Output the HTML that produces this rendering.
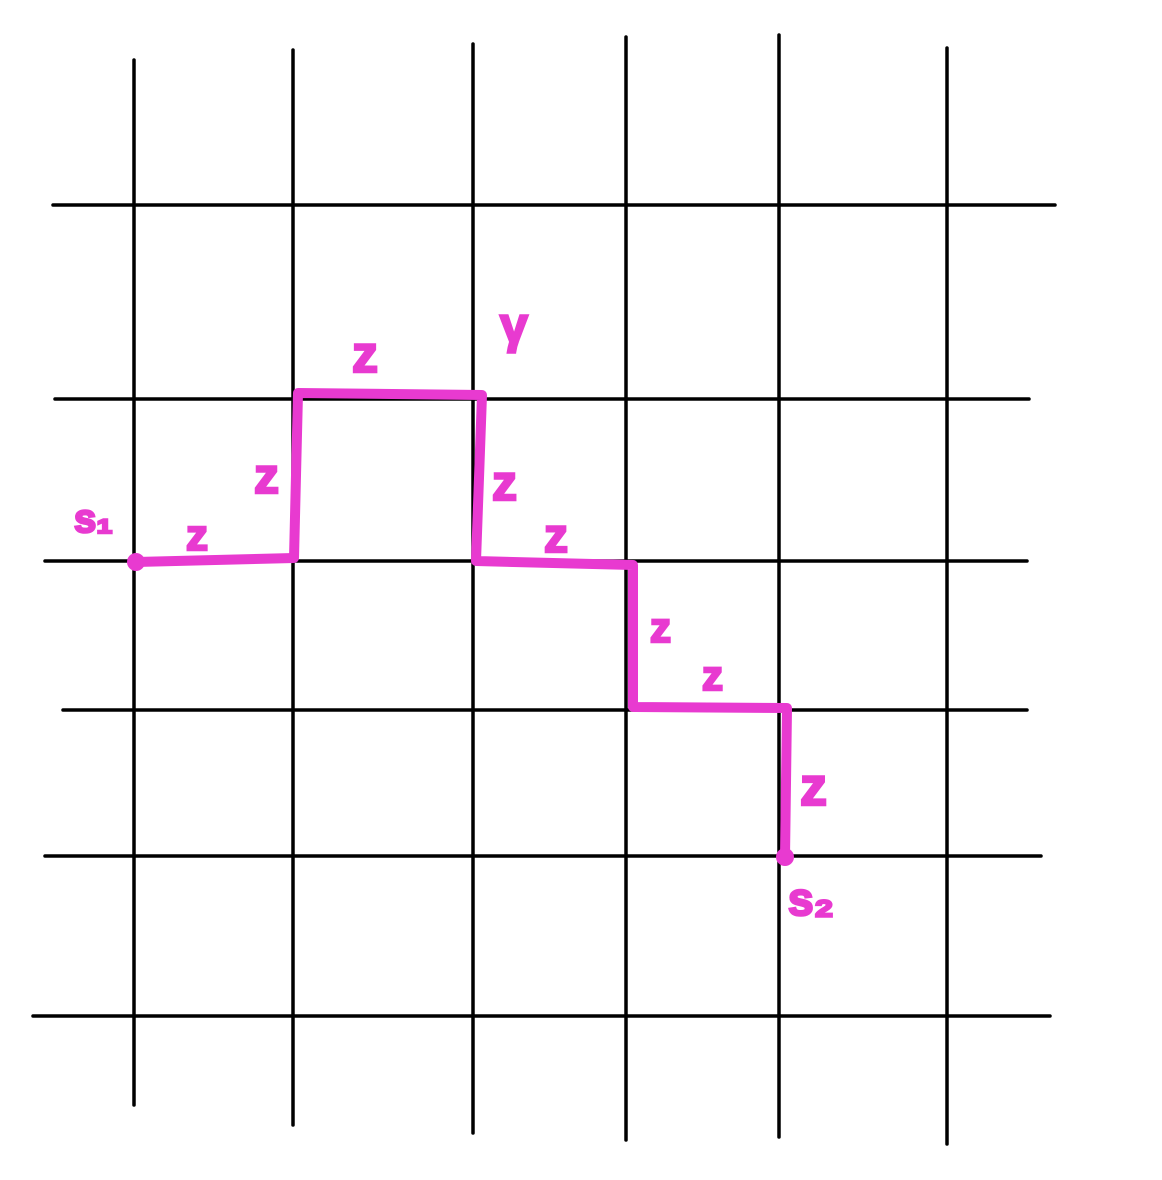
<!DOCTYPE html>
<html><head><meta charset="utf-8"><style>
html,body{margin:0;padding:0;background:#fff;}
svg{display:block;}
text{font-family:"Comic Sans MS","Liberation Sans",sans-serif;font-weight:bold;fill:#e83ad0;stroke:#e83ad0;stroke-width:2.5;}
</style></head><body>
<svg id="fig" width="1162" height="1180" viewBox="0 0 1162 1180">
<g id="grid"></g>
<g id="path"></g>
<g id="labels"></g>
</svg>
<script>
const vLines = [[134,60,1105],[293,50,1125],[473,44,1133],[626,37,1140],[779,35,1137],[947,48,1144]];
const hLines = [[205,53,1055],[399,55,1029],[561,45,1027],[710,63,1027],[856,45,1041],[1016,33,1050]];
const pathPts = [[136,562],[294,558],[298,393],[482,395],[476,561],[633,565],[633,707],[787,708],[785,857]];
const labelTexts = ["z","z","z","z","z","z","z","z","s₁","s₂","γ"];
const labelPos = [[186,550,44],[254,493,50],[352,372,52],[492,500,50],[544,552,48],[650,642,42],[702,690,42],[800,805,54],[74,532,40],[788,915,46],[500,342,50]];
const NS="http://www.w3.org/2000/svg";
const g=document.getElementById('grid');
vLines.forEach(v=>{const l=document.createElementNS(NS,'line');


l.setAttribute('x1',v[0]);l.setAttribute('x2',v[0]);l.setAttribute('y1',v[1]);l.setAttribute('y2',v[2]);
l.setAttribute('stroke','#000');l.setAttribute('stroke-width','3.5');l.setAttribute('stroke-linecap','round');g.appendChild(l);});
hLines.forEach(h=>{const l=document.createElementNS(NS,'line');


l.setAttribute('y1',h[0]);l.setAttribute('y2',h[0]);l.setAttribute('x1',h[1]);l.setAttribute('x2',h[2]);
l.setAttribute('stroke','#000');l.setAttribute('stroke-width','3.5');l.setAttribute('stroke-linecap','round');g.appendChild(l);});
const p=document.getElementById('path');
const pl=document.createElementNS(NS,'polyline');


pl.setAttribute('points',pathPts.map(a=>a.join(',')).join(' '));
pl.setAttribute('fill','none');pl.setAttribute('stroke','#e83ad0');pl.setAttribute('stroke-width','10');
pl.setAttribute('stroke-linejoin','round');pl.setAttribute('stroke-linecap','round');p.appendChild(pl);
[pathPts[0],pathPts[pathPts.length-1]].forEach((a,i)=>{const c=document.createElementNS(NS,'circle');


c.setAttribute('cx',a[0]);c.setAttribute('cy',a[1]);c.setAttribute('r','9');c.setAttribute('fill','#e83ad0');p.appendChild(c);});
const lg=document.getElementById('labels');
labelTexts.forEach((t,i)=>{const e=document.createElementNS(NS,'text');


e.setAttribute('x',labelPos[i][0]);e.setAttribute('y',labelPos[i][1]);e.setAttribute('font-size',labelPos[i][2]);
e.textContent=t;lg.appendChild(e);});
</script>
</body></html>
